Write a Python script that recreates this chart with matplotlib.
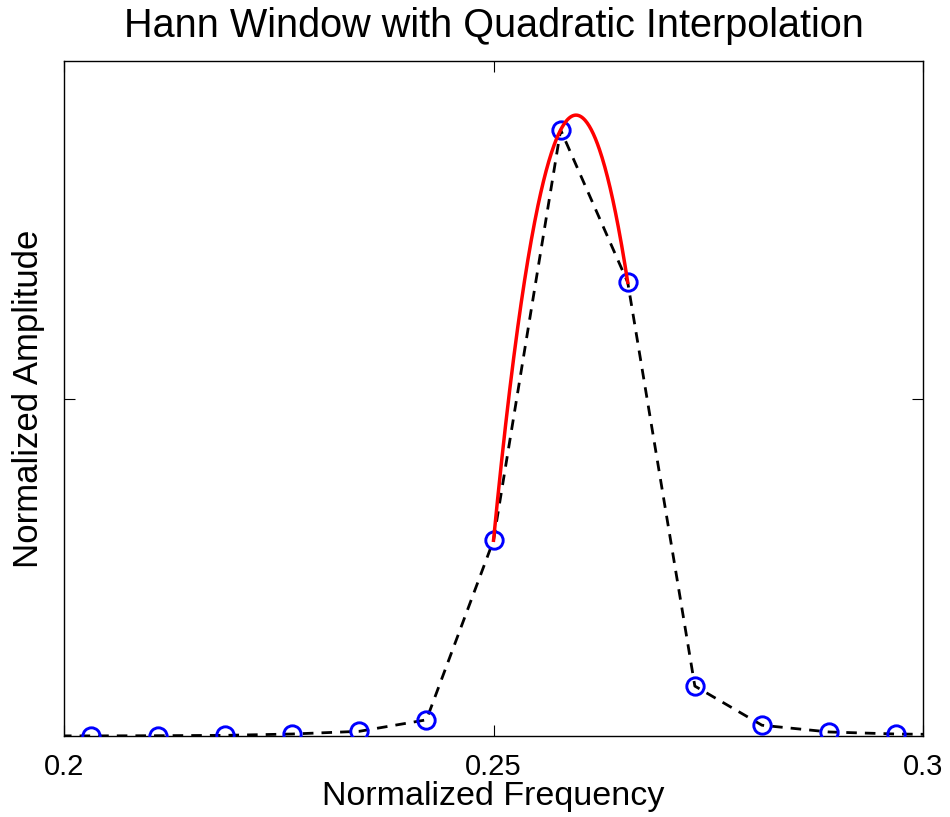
import numpy as np
import matplotlib
matplotlib.use("Agg")
import matplotlib.pyplot as plt

plt.rcParams["font.family"] = ["Liberation Sans", "DejaVu Sans"]

# Bins de la FFT (k/128), incluye uno a cada lado fuera del rango visible
bins = np.arange(25, 40)
freq = bins / 128.0
amplitud = [0.0003, 0.0002, 0.0005, 0.001, 0.003, 0.007, 0.024, 0.29,
            0.898, 0.672, 0.074, 0.016, 0.006, 0.003, 0.002]

# Los tres bins alrededor del pico que usa la interpolación cuadrática
idx_pico = [7, 8, 9]

fig = plt.figure(figsize=(9.5, 8.17), dpi=100)
ax = fig.add_axes([0.0674, 0.0991, 0.9042, 0.8262])

ax.plot(freq, amplitud, "k--", lw=2.0, dashes=(3.8, 2.9), zorder=2)
ax.plot(freq, amplitud, "o", ms=12.5, mfc="none", mec="blue", mew=2.1, zorder=3)

# Parabola que pasa por los tres puntos del pico
xp = freq[idx_pico]
yp = np.array(amplitud)[idx_pico]
coef = np.polyfit(xp, yp, 2)
xs = np.linspace(xp[0], xp[-1], 200)
ax.plot(xs, np.polyval(coef, xs), color="red", lw=2.5, zorder=4)

ax.set_xlim(0.2, 0.3)
ax.set_ylim(0, 1)
ax.set_xticks([0.2, 0.25, 0.3])
ax.set_xticklabels(["0.2", "0.25", "0.3"])
ax.set_yticks([0.5])
ax.set_yticklabels([])
ax.tick_params(direction="in", length=8, width=0.8, top=True, right=True,
               labelsize=21, pad=12)
for s in ax.spines.values():
    s.set_linewidth(1.0)

ax.set_title("Hann Window with Quadratic Interpolation", fontsize=28.5, pad=17)
ax.set_xlabel("Normalized Frequency", fontsize=24.5, labelpad=0)
ax.set_ylabel("Normalized Amplitude", fontsize=25, labelpad=2)

fig.savefig("out.png", dpi=100)
